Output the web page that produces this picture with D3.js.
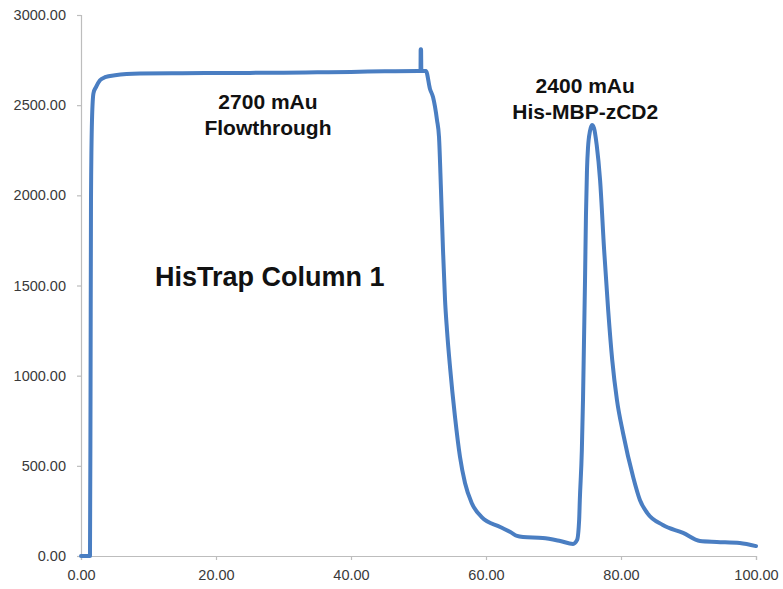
<!DOCTYPE html>
<html><head><meta charset="utf-8">
<script src="https://cdn.jsdelivr.net/npm/d3@7"></script>
<style>body{margin:0;background:#fff;} svg{display:block;}</style>
</head><body>
<svg id="c" width="783" height="589"></svg>
<script>
// Elution volume (x) and absorbance mAu (y)
const volume = [0, 1.19, 1.33, 1.41, 1.48, 1.63, 1.85, 2.22, 2.81, 3.56, 5.04, 8.74, 15, 20, 25, 30, 35, 40, 45, 50, 50.3, 50.32, 50.38, 50.42, 51.1, 51.7, 52.15, 52.74, 53.04, 53.33, 53.63, 53.93, 54.22, 54.67, 55.41, 56.15, 56.89, 57.88, 59.36, 62.1, 63.6, 64.6, 65.5, 68.4, 71, 72.9, 73.5, 73.8, 73.9, 74.2, 74.37, 74.52, 74.67, 74.81, 74.96, 75.11, 75.41, 75.7, 76.0, 76.4, 76.9, 77.5, 78.1, 78.7, 79.4, 80.3, 81.8, 82.8, 83.9, 86.2, 89.2, 91.7, 94.2, 97.6, 100];
const absorbance = [0, 0, 0, 865, 1974, 2418, 2567, 2600, 2638, 2655, 2666, 2675, 2677, 2678, 2679, 2680, 2682, 2684, 2688, 2690, 2690, 2810, 2810, 2690, 2690, 2590, 2545, 2418, 2323, 2030, 1697, 1420, 1253, 1048, 771, 549, 405, 294, 216, 161, 133, 111, 105, 100, 83, 67, 89, 200, 311, 588, 865, 1198, 1530, 1891, 2140, 2263, 2357, 2390, 2373, 2279, 2085, 1697, 1364, 1087, 865, 682, 438, 311, 238, 172, 128, 83, 78, 72, 55];
const xTicks = [0, 20, 40, 60, 80, 100];
const yTicks = [0, 500, 1000, 1500, 2000, 2500, 3000];
const annotations = [
  {lines: ["2700 mAu", "Flowthrough"], x: 27.7, y: 2479},
  {lines: ["2400 mAu", "His-MBP-zCD2"], x: 74.7, y: 2568}
];
const title = "HisTrap Column 1";

const svg = d3.select("#c");
const x = d3.scaleLinear().domain([0, 100]).range([81, 756]);
const y = d3.scaleLinear().domain([0, 3000]).range([556, 15]);
const fmt = d3.format(".2f");

const yAxis = svg.append("g").attr("transform", "translate(81,0)")
  .call(d3.axisLeft(y).tickValues(yTicks).tickFormat(fmt).tickSize(4).tickPadding(11));
const xAxis = svg.append("g").attr("transform", "translate(0,556)")
  .call(d3.axisBottom(x).tickValues(xTicks).tickFormat(fmt).tickSize(4).tickPadding(10));
[yAxis, xAxis].forEach(g => {
  g.select(".domain").attr("stroke", "#bdbdbd").attr("stroke-width", 1.2);
  g.selectAll(".tick line").attr("stroke", "#bdbdbd").attr("stroke-width", 1.2);
  g.selectAll("text").attr("fill", "#3a3a3a").style("font-family", "'Liberation Sans', Arial, sans-serif").style("font-size", "14.5px");
});

const data = volume.map((v, i) => [v, absorbance[i]]);
svg.append("path").datum(data)
  .attr("fill", "none").attr("stroke", "#4a7ec2").attr("stroke-width", 4)
  .attr("stroke-linejoin", "round").attr("stroke-linecap", "round")
  .attr("d", d3.line().x(d => x(d[0])).y(d => y(d[1])).curve(d3.curveMonotoneX));

annotations.forEach(a => {
  const t = svg.append("text").attr("text-anchor", "middle")
    .style("font-family", "'Liberation Sans', Arial, sans-serif").style("font-weight", "bold")
    .style("font-size", "21px").attr("fill", "#111");
  a.lines.forEach((l, i) => {
    t.append("tspan").attr("x", x(a.x)).attr("y", y(a.y) + i * 26).text(l);
  });
});

svg.append("text").attr("x", x(10.96)).attr("y", y(1500))
  .style("font-family", "'Liberation Sans', Arial, sans-serif").style("font-weight", "bold")
  .style("font-size", "27px").attr("fill", "#111").text(title);
</script>
</body></html>
